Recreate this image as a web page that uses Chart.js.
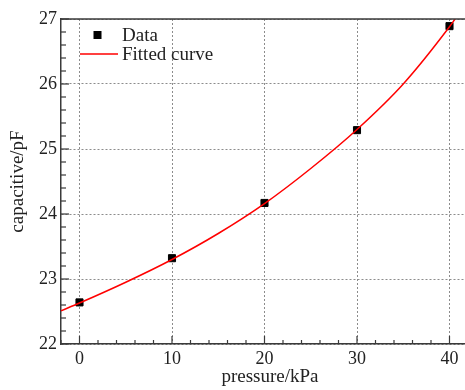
<!DOCTYPE html>
<html>
<head>
<meta charset="utf-8">
<script src="https://cdn.jsdelivr.net/npm/chart.js@4.4.0/dist/chart.umd.min.js"></script>
<style>
  html, body { margin: 0; padding: 0; background: #fff; overflow: hidden; }
  #wrap { width: 480px; height: 390px; }
</style>
</head>
<body>
<div id="wrap"><canvas id="chart"></canvas></div>
<script>
// Datos medidos (cuadrados negros)
const pressure = [0, 10, 20, 30, 40];
const capacitive = [22.64, 23.32, 24.17, 25.29, 26.89];

// Curva ajustada
const curveX = [-2, 0, 5, 10, 15, 20, 25, 30, 35, 40, 40.6];
const curveY = [22.51, 22.63, 22.95, 23.30, 23.70, 24.16, 24.70, 25.30, 26.00, 26.88, 27.0];

// Etiquetas de los ejes
const xTicks = [0, 10, 20, 30, 40];
const yTicks = [22, 23, 24, 25, 26, 27];

const serif = "'Liberation Serif', 'DejaVu Serif', serif";
const axisColor = '#3a3a3a';

// Leyenda dentro del área del gráfico, título del eje x y marcas hacia dentro
const extras = {
  id: 'extras',
  afterDraw(chart) {
    const { ctx, chartArea: a, scales: { x, y } } = chart;
    ctx.save();
    ctx.strokeStyle = axisColor;
    ctx.lineWidth = 1.5;
    // borde superior
    ctx.beginPath();
    ctx.moveTo(a.left, a.top);
    ctx.lineTo(a.right, a.top);
    ctx.stroke();
    // marcas eje x
    ctx.lineWidth = 1.2;
    for (let v = -2; v <= 42; v += 2) {
      const px = x.getPixelForValue(v);
      const len = v % 10 === 0 ? 8 : 4;
      ctx.beginPath();
      ctx.moveTo(px, a.bottom);
      ctx.lineTo(px, a.bottom - len);
      ctx.stroke();
    }
    // marcas eje y
    for (let i = 0; i <= 25; i++) {
      const v = 22 + i * 0.2;
      const py = y.getPixelForValue(v);
      const len = i % 5 === 0 ? 8 : 5;
      ctx.beginPath();
      ctx.moveTo(a.left, py);
      ctx.lineTo(a.left + len, py);
      ctx.stroke();
    }
    // leyenda
    const ds = chart.data.datasets;
    ctx.fillStyle = ds[0].backgroundColor;
    ctx.fillRect(93.5, 31, 8, 8);
    ctx.strokeStyle = ds[1].borderColor;
    ctx.lineWidth = 1.5;
    ctx.beginPath();
    ctx.moveTo(80, 54);
    ctx.lineTo(118, 54);
    ctx.stroke();
    ctx.fillStyle = '#222';
    ctx.font = '19px ' + serif;
    ctx.textBaseline = 'middle';
    ctx.textAlign = 'left';
    ctx.fillText(ds[0].label, 122, 36);
    ctx.fillText(ds[1].label, 122, 55);
    // título eje x
    ctx.textAlign = 'center';
    ctx.fillText('pressure/kPa', 270, 377);
    ctx.restore();
  }
};

const ctx = document.getElementById('chart').getContext('2d');
const chart = new Chart(ctx, {
  type: 'scatter',
  data: {
    datasets: [
      {
        label: 'Data',
        data: pressure.map((p, i) => ({ x: p, y: capacitive[i] })),
        pointStyle: 'rect',
        pointRadius: 5,
        borderWidth: 1,
        backgroundColor: '#000',
        borderColor: '#000',
        showLine: false,
        order: 1
      },
      {
        label: 'Fitted curve',
        data: curveX.map((p, i) => ({ x: p, y: curveY[i] })),
        showLine: true,
        pointRadius: 0,
        borderColor: '#ff0000',
        borderWidth: 1.5,
        cubicInterpolationMode: 'monotone',
        fill: false,
        order: 0
      }
    ]
  },
  options: {
    responsive: true,
    maintainAspectRatio: false,
    animation: false,
    layout: { padding: { top: 19, right: 12, left: 0, bottom: 0 } },
    plugins: {
      legend: { display: false },
      tooltip: { enabled: false }
    },
    scales: {
      x: {
        type: 'linear',
        min: -2,
        max: 42,
        afterBuildTicks: s => { s.ticks = xTicks.map(v => ({ value: v })); },
        afterFit: s => { s.height = 46; },
        grid: { color: '#8c8c8c', lineWidth: 1, drawTicks: false },
        border: { display: true, color: axisColor, width: 1.5, dash: [2, 2] },
        ticks: {
          padding: 4,
          color: '#222',
          font: { family: serif, size: 18 }
        }
      },
      y: {
        type: 'linear',
        min: 22,
        max: 27,
        afterBuildTicks: s => { s.ticks = yTicks.map(v => ({ value: v })); },
        afterFit: s => { s.width = 61; },
        grid: { color: '#8c8c8c', lineWidth: 1, drawTicks: false },
        border: { display: true, color: axisColor, width: 1.5, dash: [2, 2] },
        ticks: {
          padding: 4,
          color: '#222',
          font: { family: serif, size: 18 }
        },
        title: {
          display: true,
          text: 'capacitive/pF',
          color: '#222',
          font: { family: serif, size: 19 },
          padding: { top: 7, bottom: 0 }
        }
      }
    }
  },
  plugins: [extras]
});
</script>
</body>
</html>
